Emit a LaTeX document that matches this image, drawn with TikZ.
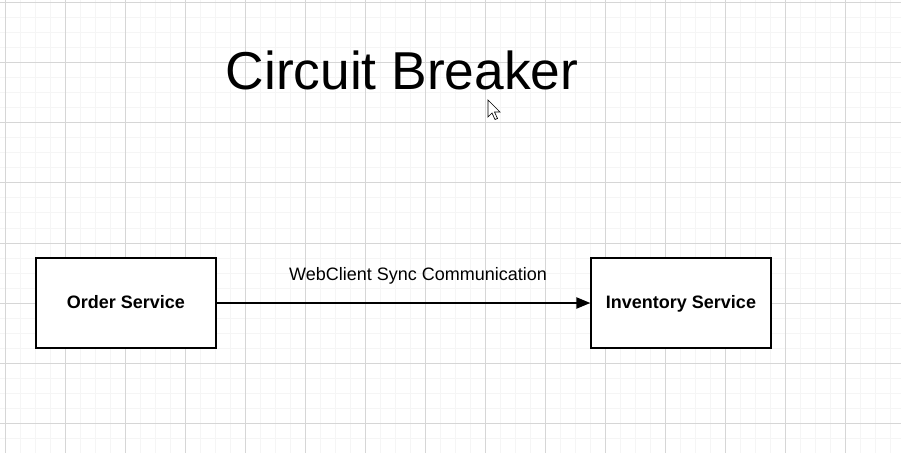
\documentclass[tikz,border=0pt]{standalone}
\usepackage{fontspec}
\setmainfont{Liberation Sans}
\usetikzlibrary{arrows.meta}
\tikzset{
  minorgrid/.style={draw=black!4, line width=0.75pt},
  majorgrid/.style={draw=black!16, line width=0.75pt},
  svcbox/.style={draw=black, line width=1.1pt, fill=white, minimum width=135pt, minimum height=67.5pt, inner sep=0pt, text height=10pt, text depth=1.6pt, font=\fontsize{13.5pt}{16pt}\selectfont\bfseries},
  conn/.style={draw=black, line width=1.1pt, -{Triangle[length=10.5pt,width=8.5pt]}},
}
\begin{document}
\begin{tikzpicture}[x=0.75pt,y=-0.75pt]
\useasboundingbox (0,0) rectangle (901,453);
\fill[white] (0,0) rectangle (901,453);
% grid
\foreach \x in {5,20,...,900} \draw[minorgrid] (\x,0) -- (\x,453);
\foreach \y in {3,18,...,453} \draw[minorgrid] (0,\y) -- (901,\y);
\foreach \x in {5,65,...,900} \draw[majorgrid] (\x,0) -- (\x,453);
\foreach \y in {3,63,...,453} \draw[majorgrid] (0,\y) -- (901,\y);
% title
\node[anchor=base, inner sep=0pt, font=\fontsize{40pt}{48pt}\selectfont] (title) at (402,90) {Circuit Breaker};
% boxes
\node[svcbox] (order) at (126,303) {Order Service};
\node[svcbox] (inv) at (681,303) {Inventory Service};
\draw[conn] (order) -- (inv);
\node[anchor=base, inner sep=0pt, font=\fontsize{13.5pt}{16pt}\selectfont] (lbl) at (418,280) {WebClient Sync Communication};
% mouse cursor
\draw[black, fill=white, line width=0.5pt, line join=miter]
  (488,100) -- (488,117) -- (492,113) -- (495,119.5) -- (497.5,118.5) -- (494.5,112) -- (500,112) -- cycle;
\end{tikzpicture}
\end{document}
